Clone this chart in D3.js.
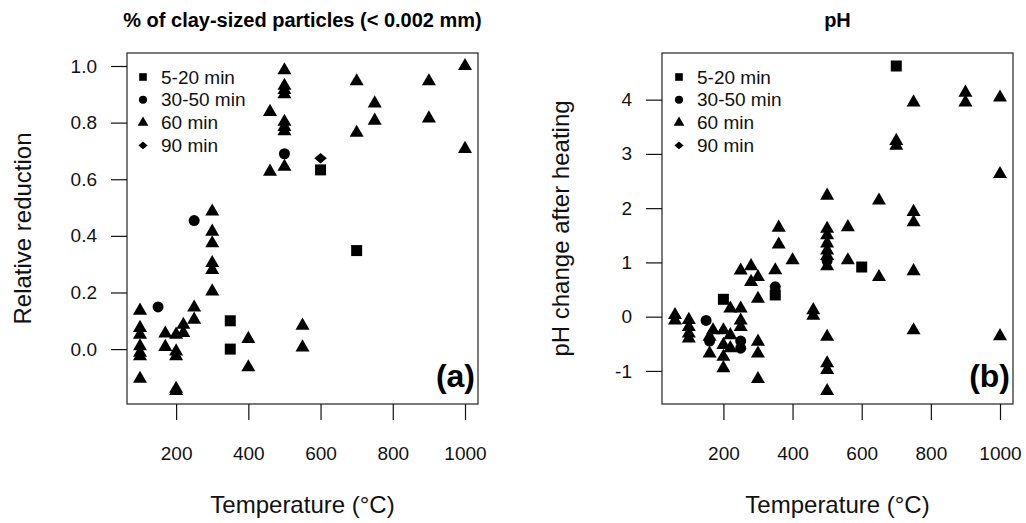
<!DOCTYPE html>
<html>
<head>
<meta charset="utf-8">
<script src="https://cdn.jsdelivr.net/npm/d3@7"></script>
<style>
  body { margin: 0; background: #fff; }
  svg { font-family: "Liberation Sans", Arial, sans-serif; }
</style>
</head>
<body>
<svg id="chart" width="1026" height="523"></svg>
<script>
// ---- data: [temperature, value] ----
const groups = ["5-20 min", "30-50 min", "60 min", "90 min"]
const xTicks = [200, 400, 600, 800, 1000]

// panel (a): relative reduction of clay-sized particles
const claySquare = [[350, 0.10], [350, 0.0], [600, 0.633], [700, 0.348]]
const clayCircle = [[150, 0.149], [250, 0.454], [500, 0.69]]
const clayTriangle = [
    [100, 0.136], [100, 0.075], [100, 0.051], [100, 0.01], [100, -0.013], [100, -0.025], [100, -0.105],
    [170, 0.055], [170, 0.008],
    [200, 0.051], [200, -0.008], [200, -0.025], [200, -0.14], [200, -0.148],
    [220, 0.086], [220, 0.057],
    [250, 0.147], [250, 0.104],
    [300, 0.486], [300, 0.415], [300, 0.374], [300, 0.304], [300, 0.28], [300, 0.204],
    [400, 0.036], [400, -0.064],
    [460, 0.838], [460, 0.627],
    [500, 0.985], [500, 0.93], [500, 0.915], [500, 0.9], [500, 0.803], [500, 0.785], [500, 0.77], [500, 0.644],
    [550, 0.083], [550, 0.006],
    [700, 0.946], [700, 0.764],
    [750, 0.868], [750, 0.807],
    [900, 0.946], [900, 0.815],
    [1000, 1.0], [1000, 0.707]
]
const clayDiamond = [[600, 0.674]]
const clayYTicks = [0, 0.2, 0.4, 0.6, 0.8, 1.0]

// panel (b): pH change after heating
const phSquare = [[200, 0.32], [350, 0.4], [600, 0.915], [700, 4.62]]
const phCircle = [[150, -0.07], [160, -0.45], [250, -0.45], [250, -0.58], [350, 0.55], [500, 1.03]]
const phTriangle = [
    [60, 0.03], [60, -0.07],
    [100, -0.06], [100, -0.19], [100, -0.31], [100, -0.4],
    [170, -0.25], [160, -0.37], [160, -0.68],
    [200, -0.25], [200, -0.52], [200, -0.74], [200, -0.95],
    [220, 0.15], [220, -0.34], [220, -0.58],
    [250, 0.15], [250, -0.07], [250, -0.19], [250, 0.85],
    [280, 0.93], [300, 0.73], [280, 0.64],
    [300, 0.33], [300, -0.46], [300, -0.68], [300, -1.15],
    [350, 0.855],
    [360, 1.64], [360, 1.33],
    [400, 1.04],
    [460, 0.12], [460, 0.02],
    [500, 2.23], [500, 1.62], [500, 1.5], [500, 1.35], [500, 1.22], [500, 1.12], [500, 0.93],
    [500, -0.37], [500, -0.86], [500, -0.98], [500, -1.37],
    [560, 1.65], [560, 1.04],
    [650, 2.14], [650, 0.73],
    [700, 3.24], [700, 3.15],
    [750, 3.95], [750, 1.93], [750, 1.74], [750, 0.84], [750, -0.25],
    [900, 4.13], [900, 3.95],
    [1000, 4.04], [1000, 2.63], [1000, -0.36]
]
const phDiamond = []
const phYTicks = [-1, 0, 1, 2, 3, 4]

// filled diamond like R's pch 18
const diamondSym = {
    draw(ctx, size) {
        const w = Math.sqrt(size) * 0.6, h = Math.sqrt(size) * 0.5
        ctx.moveTo(0, -h); ctx.lineTo(w, 0); ctx.lineTo(0, h); ctx.lineTo(-w, 0); ctx.closePath()
    }
}
const shapes = [
    {type: d3.symbolSquare, size: 121, legend: 58},
    {type: d3.symbolCircle, size: 95, legend: 52},
    {type: d3.symbolTriangle, size: 85, legend: 50},
    {type: diamondSym, size: 110, legend: 60}
]

const svg = d3.select("#chart")

// R style axis range: data extent padded by 4%
const pad = (ext) => {
    const d = (ext[1] - ext[0]) * 0.04
    return [ext[0] - d, ext[1] + d]
}

const drawPanel = (cfg) => {
    const {left, right, top, bottom} = cfg
    const all = cfg.series.flat()

    const x = d3.scaleLinear().domain(pad(d3.extent(all, d => d[0]))).range([left, right])
    const y = d3.scaleLinear().domain(pad(d3.extent(all, d => d[1]))).range([bottom, top])

    const g = svg.append("g")

    g.append("rect")
        .attr("x", left).attr("y", top)
        .attr("width", right - left).attr("height", bottom - top)
        .attr("fill", "none").attr("stroke", "#333").attr("stroke-width", 1.3)

    const xAxis = g.append("g")
        .attr("transform", `translate(0,${bottom})`)
        .call(d3.axisBottom(x).tickValues(xTicks).tickSize(16).tickPadding(27).tickFormat(d => String(d)))
    const yAxis = g.append("g")
        .attr("transform", `translate(${left},0)`)
        .call(d3.axisLeft(y).tickValues(cfg.yTicks).tickSize(16).tickPadding(14).tickFormat(cfg.yFormat))

    for (const ax of [xAxis, yAxis]) {
        ax.select(".domain").remove()
        ax.selectAll("line").attr("stroke", "#111").attr("stroke-width", 1.2)
        ax.selectAll("text").attr("fill", "#111").style("font-size", "19px")
    }

    // points
    cfg.series.forEach((pts, i) => {
        g.append("g")
            .selectAll("path")
            .data(pts)
            .enter()
            .append("path")
            .attr("transform", d => `translate(${x(d[0])},${y(d[1])})`)
            .attr("d", d3.symbol().type(shapes[i].type).size(shapes[i].size))
            .attr("fill", "#000")
    })

    // legend
    const lg = g.append("g")
    groups.forEach((name, i) => {
        const ly = top + 24 + i * 22.8
        lg.append("path")
            .attr("transform", `translate(${cfg.legendX},${ly})`)
            .attr("d", d3.symbol().type(shapes[i].type).size(shapes[i].legend))
            .attr("fill", "#000")
        lg.append("text")
            .attr("x", cfg.legendX + 18).attr("y", ly)
            .attr("dy", "0.35em")
            .style("font-size", "19px")
            .attr("fill", "#111")
            .text(name)
    })

    // titles
    g.append("text")
        .attr("x", (left + right) / 2).attr("y", 27)
        .attr("text-anchor", "middle")
        .style("font-size", "20px").style("font-weight", "bold")
        .text(cfg.title)

    g.append("text")
        .attr("x", (left + right) / 2).attr("y", 513)
        .attr("text-anchor", "middle")
        .style("font-size", "24px")
        .attr("fill", "#111")
        .text("Temperature (°C)")

    g.append("text")
        .attr("transform", `translate(${cfg.yTitleX},${(top + bottom) / 2}) rotate(-90)`)
        .attr("text-anchor", "middle")
        .style("font-size", "24px")
        .attr("fill", "#111")
        .text(cfg.yTitle)

    g.append("text")
        .attr("x", right - 3).attr("y", bottom - 17)
        .attr("text-anchor", "end")
        .style("font-size", "32px").style("font-weight", "bold")
        .text(cfg.tag)
}

drawPanel({
    left: 127, right: 478, top: 53, bottom: 404,
    series: [claySquare, clayCircle, clayTriangle, clayDiamond],
    yTicks: clayYTicks, yFormat: d3.format(".1f"),
    legendX: 143,
    title: "% of clay-sized particles (< 0.002 mm)",
    yTitle: "Relative reduction", yTitleX: 31,
    tag: "(a)"
})

drawPanel({
    left: 662, right: 1013, top: 53, bottom: 404,
    series: [phSquare, phCircle, phTriangle, phDiamond],
    yTicks: phYTicks, yFormat: d => String(d),
    legendX: 679,
    title: "pH",
    yTitle: "pH change after heating", yTitleX: 569,
    tag: "(b)"
})
</script>
</body>
</html>
